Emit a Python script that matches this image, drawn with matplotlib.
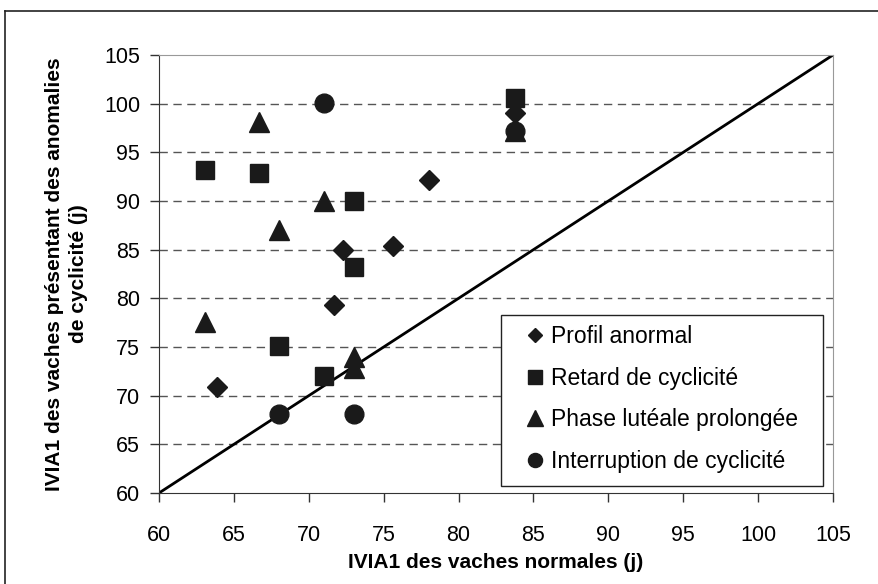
import numpy as np
import matplotlib.pyplot as plt
from matplotlib.lines import Line2D
from matplotlib.patches import Rectangle

plt.rcParams['font.family'] = ['Liberation Sans', 'DejaVu Sans']

# IVIA1 (jours) : vaches normales (x) vs vaches avec anomalies (y)
profil_x = [63.9, 71.7, 72.3, 75.6, 78.0, 83.8]
profil_y = [70.9, 79.3, 85.0, 85.4, 92.2, 99.0]

retard_x = [63.1, 66.7, 68.0, 71.0, 73.0, 73.0, 83.8]
retard_y = [93.2, 92.9, 75.1, 72.0, 90.0, 83.2, 100.6]

phase_x = [63.1, 66.7, 68.0, 71.0, 73.0, 73.0, 83.8]
phase_y = [77.6, 98.1, 87.0, 90.0, 74.0, 72.8, 97.2]

interr_x = [68.0, 71.0, 73.0, 83.8]
interr_y = [68.1, 100.1, 68.1, 97.2]

series = [
    ('Profil anormal', profil_x, profil_y, 'D', 10),
    ('Retard de cyclicité', retard_x, retard_y, 's', 13.5),
    ('Phase lutéale prolongée', phase_x, phase_y, '^', 14.5),
    ('Interruption de cyclicité', interr_x, interr_y, 'o', 13.5),
]

fig = plt.figure(figsize=(8.79, 5.84), dpi=100)
ax = fig.add_axes([159 / 879, 1 - 493 / 584, (833 - 159) / 879, (493 - 55) / 584])

# cadre extérieur (seuls le haut et la gauche sont visibles)
fig.add_artist(Line2D([5 / 879, 5 / 879], [0, 1 - 11 / 584], transform=fig.transFigure,
                      color='#222222', lw=1.2))
fig.add_artist(Line2D([5 / 879, 1], [1 - 11 / 584, 1 - 11 / 584], transform=fig.transFigure,
                      color='#222222', lw=1.2))

handles = []
for name, xs, ys, mk, ms in series:
    h, = ax.plot(xs, ys, linestyle='none', marker=mk, markersize=ms,
                 color='#1a1a1a', label=name, zorder=3, clip_on=False)
    handles.append(h)

# droite y = x
ax.plot([60, 105], [60, 105], color='black', lw=2, zorder=2)

ax.set_xlim(60, 105)
ax.set_ylim(60, 105)
ax.set_xticks(np.arange(60, 106, 5))
ax.set_yticks(np.arange(60, 106, 5))
ax.tick_params(axis='both', labelsize=15.5, length=6.5, width=1, color='#333333', direction='out')
ax.tick_params(axis='x', pad=16.5)
ax.tick_params(axis='y', pad=7)

for y in range(65, 105, 5):
    ax.axhline(y, color='#555555', lw=1, ls=(0, (6, 4)), zorder=1)

ax.spines['left'].set_color('#333333')
ax.spines['bottom'].set_color('#333333')
ax.spines['top'].set_color('#999999')
ax.spines['right'].set_color('#999999')

ax.set_xlabel('IVIA1 des vaches normales (j)', fontsize=15, fontweight='bold')
ax.set_ylabel('IVIA1 des vaches présentant des anomalies\nde cyclicité (j)', fontsize=15,
              fontweight='bold', linespacing=1.3)
ax.xaxis.set_label_coords(0.5, -0.137)
ax.yaxis.set_label_coords(-0.106, 0.5)

# légende sans cadre + cadre rectangulaire séparé
leg = ax.legend(handles=handles, loc='upper left', bbox_to_anchor=(0.5475, 0.3836),
                fontsize=16.5, frameon=False, markerscale=0.75,
                handlelength=0.6, handletextpad=0.4, labelspacing=0.81,
                borderpad=0, borderaxespad=0)
ax.add_patch(Rectangle((0.5074, 0.016), 0.4777, 0.3904, transform=ax.transAxes,
                       facecolor='white', edgecolor='#222222', lw=1, zorder=4))
leg.set_zorder(5)

fig.savefig('out.png', dpi=100)
